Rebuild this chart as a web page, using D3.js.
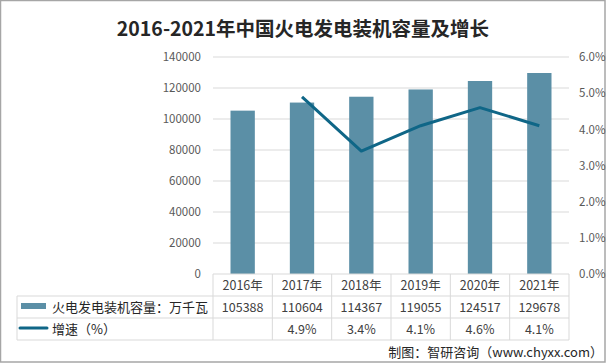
<!DOCTYPE html>
<html><head><meta charset="utf-8">
<script src="https://cdn.jsdelivr.net/npm/d3@7/dist/d3.min.js"></script>
<style>
body{margin:0;padding:0;background:#fff;}
svg{display:block;}
text{font-family:"Microsoft YaHei","Noto Sans CJK SC","Liberation Sans",sans-serif;}
</style></head>
<body>
<svg id="chart" width="606" height="364"></svg>
<script>
const years = ["2016年","2017年","2018年","2019年","2020年","2021年"];
const capacity = [105388,110604,114367,119055,124517,129678];
const growth = [null,4.9,3.4,4.1,4.6,4.1];
const leftTicks = [0,20000,40000,60000,80000,100000,120000,140000];
const rightTicks = [0,1,2,3,4,5,6];
const seriesNames = ["火电发电装机容量：万千瓦","增速（%）"];
const title = "2016-2021年中国火电发电装机容量及增长";
const source = "制图：智研咨询（www.chyxx.com）";

const svg = d3.select("#chart");
const barColor = "#5b8fa6", lineColor = "#0f6687", gridColor = "#d9d9d9", textColor = "#595959";
const plotL = 213, plotR = 569, plotT = 57, plotB = 274;

// border
svg.append("rect").attr("x",0.5).attr("y",0.5).attr("width",604.5).attr("height",361.5)
  .attr("fill","#fff").attr("stroke","#a6a6a6").attr("stroke-width",1.5);

svg.append("text").attr("x",303).attr("y",36).attr("text-anchor","middle")
  .attr("font-size",19.5).attr("font-weight","bold").attr("fill","#262626").text(title);

const x = d3.scaleBand().domain(years).range([plotL,plotR]).padding(0);
const y = d3.scaleLinear().domain([0,140000]).range([plotB,plotT]);
const y2 = d3.scaleLinear().domain([0,6]).range([plotB,plotT]);

// grid
svg.append("g").selectAll("line").data(leftTicks.slice(1)).join("line")
  .attr("x1",plotL).attr("x2",plotR).attr("y1",d=>y(d)).attr("y2",d=>y(d))
  .attr("stroke",gridColor).attr("stroke-width",1);

// left axis
const la = svg.append("g").attr("transform",`translate(${plotL},0)`)
  .call(d3.axisLeft(y).tickValues(leftTicks).tickSize(0).tickPadding(12).tickFormat(d3.format("d")));
la.select(".domain").remove();
la.selectAll("text").attr("font-size",11.5).attr("fill",textColor).attr("font-family","'Liberation Sans',Arial,sans-serif");

// right axis
const ra = svg.append("g").attr("transform",`translate(${plotR},0)`)
  .call(d3.axisRight(y2).tickValues(rightTicks).tickSize(0).tickPadding(10).tickFormat(d=>d3.format(".1f")(d)+"%"));
ra.select(".domain").remove();
ra.selectAll("text").attr("font-size",11.5).attr("fill",textColor).attr("font-family","'Liberation Sans',Arial,sans-serif");

// bars
const bw = x.bandwidth()*0.41;
svg.append("g").selectAll("rect").data(capacity).join("rect")
  .attr("x",(d,i)=>x(years[i])+x.bandwidth()/2-bw/2).attr("width",bw)
  .attr("y",d=>y(d)).attr("height",d=>plotB-y(d)).attr("fill",barColor);

// line
const line = d3.line().defined(d=>d!=null)
  .x((d,i)=>x(years[i])+x.bandwidth()/2).y(d=>y2(d));
svg.append("path").datum(growth).attr("d",line).attr("fill","none")
  .attr("stroke",lineColor).attr("stroke-width",3).attr("stroke-linejoin","round");

// table
const rows = [274,296,318,340];
const tl = 17;
const tg = svg.append("g").attr("stroke",gridColor).attr("stroke-width",1);
tg.append("line").attr("x1",plotL).attr("x2",plotR).attr("y1",rows[0]).attr("y2",rows[0]);
[1,2,3].forEach(r=>tg.append("line").attr("x1",tl).attr("x2",plotR).attr("y1",rows[r]).attr("y2",rows[r]));
tg.append("line").attr("x1",tl).attr("x2",tl).attr("y1",rows[1]).attr("y2",rows[3]);
const xs = years.map(d=>x(d)).concat([plotR]);
xs.forEach(v=>tg.append("line").attr("x1",v).attr("x2",v).attr("y1",rows[0]).attr("y2",rows[3]));

const cellText = (tx,ty,s)=>svg.append("text").attr("x",tx).attr("y",ty).attr("text-anchor","middle")
  .attr("font-size",12.5).attr("fill","#404040").text(s);
years.forEach((yr,i)=>{
  const cx = x(yr)+x.bandwidth()/2;
  cellText(cx,290,yr);
  cellText(cx,312,String(capacity[i]));
  if(growth[i]!=null) cellText(cx,334,d3.format(".1f")(growth[i])+"%");
});

// legend
svg.append("rect").attr("x",21).attr("y",303).attr("width",25).attr("height",6).attr("fill",barColor);
svg.append("line").attr("x1",20).attr("x2",47).attr("y1",328).attr("y2",328).attr("stroke",lineColor).attr("stroke-width",3).attr("stroke-linecap","round");
svg.append("text").attr("x",52).attr("y",312).attr("font-size",13).attr("fill","#262626").text(seriesNames[0]);
svg.append("text").attr("x",52).attr("y",334).attr("font-size",13).attr("fill","#262626").text(seriesNames[1]);

// source
svg.append("text").attr("x",603).attr("y",357).attr("text-anchor","end")
  .attr("font-size",13).attr("fill","#262626").text(source);
</script>
</body></html>
